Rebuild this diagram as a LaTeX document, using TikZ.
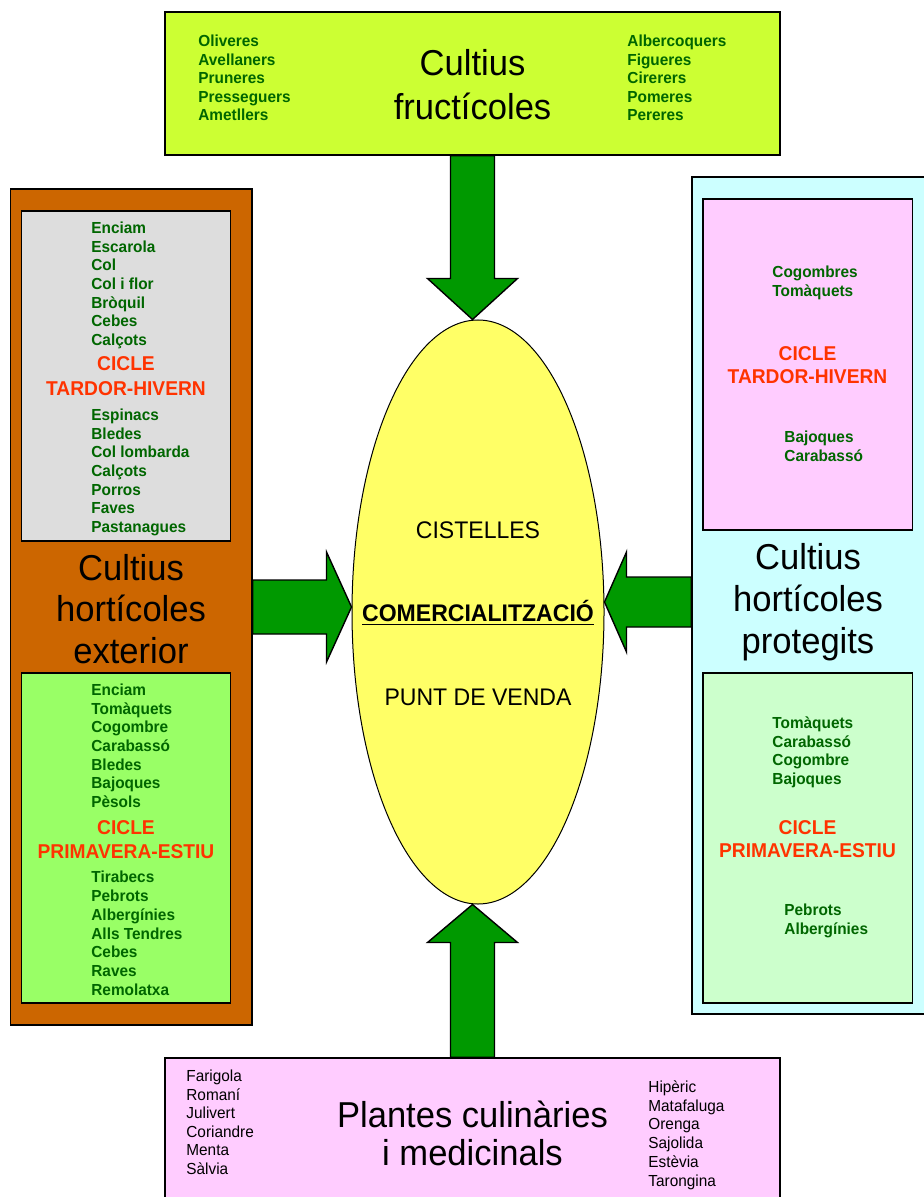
\documentclass[tikz,border=0pt]{standalone}
\usepackage{fontspec}
\setmainfont{Liberation Sans}[FakeStretch=0.96]
\usetikzlibrary{calc,shapes.geometric}

\definecolor{fruitcol}{HTML}{CCFF33}
\definecolor{extcol}{HTML}{CC6600}
\definecolor{greycol}{HTML}{DDDDDD}
\definecolor{springcol}{HTML}{99FF66}
\definecolor{protcol}{HTML}{CCFFFF}
\definecolor{pinkcol}{HTML}{FFCCFF}
\definecolor{palecol}{HTML}{CCFFCC}
\definecolor{yelcol}{HTML}{FFFF66}
\definecolor{arrowcol}{HTML}{009900}
\definecolor{vegcol}{HTML}{006600}
\definecolor{ciclecol}{HTML}{FF3300}

\tikzset{
  box/.style={draw=black, line width=0.7pt, inner sep=0pt},
  veglist/.style={inner sep=0pt, anchor=base west, text=vegcol, font=\fontsize{8}{9.3}\selectfont\bfseries},
  herblist/.style={inner sep=0pt, anchor=base west, font=\fontsize{8}{9.3}\selectfont},
  cicletext/.style={inner sep=0pt, anchor=base, text=ciclecol, font=\fontsize{10}{11.5}\selectfont\bfseries},
  title/.style={inner sep=0pt, anchor=base, font=\fontsize{18}{21}\selectfont},
  centre/.style={inner sep=0pt, anchor=base, font=\fontsize{12}{14}\selectfont},
  bigarrow/.style={draw=black, fill=arrowcol, line width=0.7pt, line join=miter},
}

\begin{document}
\begin{tikzpicture}[x=0.5pt, y=-0.5pt]
            \useasboundingbox (0,0) rectangle (924,1197);
            \clip (0,0) rectangle (924,1197);

            % boxes
            \node[box, fill=fruitcol, minimum width=307.5pt, minimum height=71.5pt] (fru) at (472.5, 83.5) {};
            \node[box, fill=extcol, minimum width=120.75pt, minimum height=418pt] (ext) at (131.25, 607) {};
            \node[box, fill=greycol, minimum width=104.5pt, minimum height=165pt] (tih1) at (126, 376) {};
            \node[box, fill=springcol, minimum width=104.5pt, minimum height=165pt] (prv1) at (126, 838) {};
            \node[box, fill=protcol, minimum width=124pt, minimum height=418.5pt] (prot) at (816, 595.5) {};
            \node[box, fill=pinkcol, minimum width=104.75pt, minimum height=165.5pt] (tih2) at (807.75, 364.5) {};
            \node[box, fill=palecol, minimum width=104.75pt, minimum height=165pt] (prv2) at (807.75, 838) {};
            \node[box, fill=pinkcol, minimum width=307.5pt, minimum height=78.5pt] (pla) at (472.5, 1136.5) {};
            \node[draw=black, line width=0.5pt, fill=yelcol, ellipse, inner sep=0pt,
                  minimum width=126pt, minimum height=292pt] (eli) at (478, 612) {};

            % arrows
            \coordinate (rt) at ($(eli.east)+(0,-10)$);
            \draw[bigarrow] ($(fru.south)+(-22,0)$) -- ($(fru.south |- eli.north)+(-22,-41)$) -- ++(-23,0)
                -- (fru.south |- eli.north) -- ++(45,-41) -- ++(-23,0) -- ($(fru.south)+(22,0)$) -- cycle;
            \draw[bigarrow] ($(pla.north)+(-22,0)$) -- ($(pla.north |- eli.south)+(-22,38)$) -- ++(-23,0)
                -- (pla.north |- eli.south) -- ++(45,38) -- ++(-23,0) -- ($(pla.north)+(22,0)$) -- cycle;
            \draw[bigarrow] ($(ext.east)+(0,-27)$) -- ($(eli.west |- ext.east)+(-25,-27)$) -- ++(0,-28)
                -- (eli.west |- ext.east) -- ++(-25,55) -- ++(0,-28) -- ($(ext.east)+(0,27)$) -- cycle;
            \draw[bigarrow] ($(rt -| prot.west)+(0,-25)$) -- ($(rt)+(22,-25)$) -- ++(0,-25)
                -- (rt) -- ++(22,50) -- ++(0,-25) -- ($(rt -| prot.west)+(0,25)$) -- cycle;

            % fruit trees
            \foreach \t [count=\i from 0] in {Oliveres,Avellaners,Pruneres,Presseguers,Ametllers}
                \node[veglist] (fa\i) at (198, 46.5+18.6*\i) {\t};
            \foreach \t [count=\i from 0] in {Albercoquers,Figueres,Cirerers,Pomeres,Pereres}
                \node[veglist] (fb\i) at (627, 46.5+18.6*\i) {\t};
            \node[title] (fru1) at (472.5, 76) {Cultius};
            \node[title] (fru2) at (472.5, 120) {fructícoles};

            % outdoor vegetables
            \foreach \t [count=\i from 0] in {Enciam,Escarola,Col,Col i flor,Bròquil,Cebes,Calçots}
                \node[veglist] (ea\i) at (91, 233.5+18.67*\i) {\t};
            \node[cicletext] (ec1) at (126, 371) {CICLE};
            \node[cicletext] (ec2) at (126, 395) {TARDOR-HIVERN};
            \foreach \t [count=\i from 0] in {Espinacs,Bledes,Col lombarda,Calçots,Porros,Faves,Pastanagues}
                \node[veglist] (eb\i) at (91, 420.5+18.67*\i) {\t};
            \node[title] (ext1) at (131, 580) {Cultius};
            \node[title] (ext2) at (131, 621) {hortícoles};
            \node[title] (ext3) at (131, 663) {exterior};
            \foreach \t [count=\i from 0] in {Enciam,Tomàquets,Cogombre,Carabassó,Bledes,Bajoques,Pèsols}
                \node[veglist] (ec\i) at (91, 695.5+18.67*\i) {\t};
            \node[cicletext] (ep1) at (126, 834) {CICLE};
            \node[cicletext] (ep2) at (126, 858) {PRIMAVERA-ESTIU};
            \foreach \t [count=\i from 0] in {Tirabecs,Pebrots,Albergínies,Alls Tendres,Cebes,Raves,Remolatxa}
                \node[veglist] (ed\i) at (91, 882.5+18.83*\i) {\t};

            % protected vegetables
            \foreach \t [count=\i from 0] in {Cogombres,Tomàquets}
                \node[veglist] (pa\i) at (772, 277.5+19*\i) {\t};
            \node[cicletext] (pc1) at (807.5, 361) {CICLE};
            \node[cicletext] (pc2) at (807.5, 384) {TARDOR-HIVERN};
            \foreach \t [count=\i from 0] in {Bajoques,Carabassó}
                \node[veglist] (pb\i) at (784, 442.5+19*\i) {\t};
            \node[title] (prot1) at (808, 569) {Cultius};
            \node[title] (prot2) at (808, 611) {hortícoles};
            \node[title] (prot3) at (808, 653) {protegits};
            \foreach \t [count=\i from 0] in {Tomàquets,Carabassó,Cogombre,Bajoques}
                \node[veglist] (pc\i) at (772, 728.5+18.67*\i) {\t};
            \node[cicletext] (pp1) at (807.5, 834) {CICLE};
            \node[cicletext] (pp2) at (807.5, 857) {PRIMAVERA-ESTIU};
            \foreach \t [count=\i from 0] in {Pebrots,Albergínies}
                \node[veglist] (pd\i) at (784, 915.5+19*\i) {\t};

            % herbs
            \foreach \t [count=\i from 0] in {Farigola,Romaní,Julivert,Coriandre,Menta,Sàlvia}
                \node[herblist] (ha\i) at (186, 1081.5+18.5*\i) {\t};
            \foreach \t [count=\i from 0] in {Hipèric,Matafaluga,Orenga,Sajolida,Estèvia,Tarongina}
                \node[herblist] (hb\i) at (648, 1092.5+18.7*\i) {\t};
            \node[title] (pla1) at (472.5, 1127) {Plantes culinàries};
            \node[title] (pla2) at (472.5, 1165) {i medicinals};

            % centre
            \node[centre] (c1) at (478, 538.5) {CISTELLES};
            \node[centre, font=\fontsize{12}{14}\selectfont\bfseries] (c2) at (478, 621.5) {\underline{COMERCIALITZACIÓ}};
            \node[centre] (c3) at (478, 705.5) {PUNT DE VENDA};
        \end{tikzpicture}
\end{document}
